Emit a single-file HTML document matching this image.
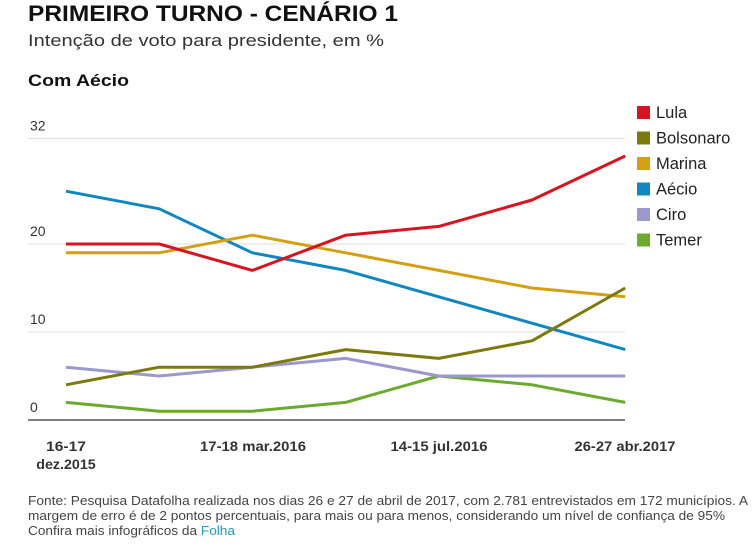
<!DOCTYPE html>
<html><head><meta charset="utf-8"><style>
body{margin:0;background:#fff;width:754px;height:547px;overflow:hidden;font-family:"Liberation Sans",sans-serif;}
svg{position:absolute;left:0;top:0}
</style></head><body>
<svg width="754" height="547">
<text x="28" y="21" font-size="22" font-weight="bold" fill="#111" textLength="370" lengthAdjust="spacingAndGlyphs">PRIMEIRO TURNO - CENÁRIO 1</text>
<text x="28" y="46" font-size="17" fill="#333" textLength="356" lengthAdjust="spacingAndGlyphs">Intenção de voto para presidente, em %</text>
<text x="28" y="86" font-size="17" font-weight="bold" fill="#111" textLength="101" lengthAdjust="spacingAndGlyphs">Com Aécio</text>
<g id="grid"></g><g id="lines"></g><g id="legend"></g>
<text x="28" y="505" font-size="13" fill="#444" textLength="720" lengthAdjust="spacingAndGlyphs">Fonte: Pesquisa Datafolha realizada nos dias 26 e 27 de abril de 2017, com 2.781 entrevistados em 172 municípios. A</text>
<text x="28" y="520" font-size="13" fill="#444" textLength="697" lengthAdjust="spacingAndGlyphs">margem de erro é de 2 pontos percentuais, para mais ou para menos, considerando um nível de confiança de 95%</text>
<text x="28" y="535" font-size="13" fill="#444" textLength="207" lengthAdjust="spacingAndGlyphs">Confira mais infográficos da <tspan fill="#1a9ad6">Folha</tspan></text>
</svg>
<script>
const categories=["dez.2015","mar.2016","mai.2016","jul.2016","out.2016","dez.2016","abr.2017"];
const lula=[20,20,17,21,22,25,30];
const bolsonaro=[4,6,6,8,7,9,15];
const marina=[19,19,21,19,17,15,14];
const aecio=[26,24,19,17,14,11,8];
const ciro=[6,5,6,7,5,5,5];
const temer=[2,1,1,2,5,4,2];
const yTicks=[0,10,20,32];
const seriesNames=["Lula","Bolsonaro","Marina","Aécio","Ciro","Temer"];
const seriesData=[lula,bolsonaro,marina,aecio,ciro,temer];
const colors=["#d7141f","#7d7a0c","#d4a012","#1187c2","#9a98cc","#6aaa2c"];
const NS="http://www.w3.org/2000/svg";
const x=i=>66+i*93.2;
const y=v=>420-v*8.8;
function mk(t,a,p){const e=document.createElementNS(NS,t);for(const k in a)e.setAttribute(k,a[k]);p.appendChild(e);return e;}
const grid=document.getElementById('grid');
yTicks.forEach(v=>{
 const l=mk('line',{x1:28,x2:625,y1:y(v),y2:y(v),stroke:v===0?'#333':'#ddd','stroke-width':v===0?1.3:1},grid);
 
 
 const t=mk('text',{x:30,y:y(v)-8,'font-size':14,fill:'#333'},grid);
 t.textContent=v;
 
 
});
const xl=[[66,"16-17","dez.2015",40],[253,"17-18 mar.2016",null,106],[439,"14-15 jul.2016",null,97],[625,"26-27 abr.2017",null,101]];
xl.forEach((d,i)=>{
 const t=mk('text',{x:d[0],y:451,'font-size':14,'font-weight':'bold',fill:'#333','text-anchor':'middle',textLength:d[3],lengthAdjust:'spacingAndGlyphs'},grid);
 t.textContent=d[1];
 
 
 if(d[2]){const t2=mk('text',{x:d[0],y:469,'font-size':14,'font-weight':'bold',fill:'#333','text-anchor':'middle',textLength:41*1.45,lengthAdjust:'spacingAndGlyphs'},grid);t2.textContent=d[2];
 
 }
});
const lines=document.getElementById('lines');
for(let s=seriesData.length-1;s>=0;s--){
 const pts=seriesData[s].map((v,i)=>x(i)+','+y(v)).join(' ');
 const p=mk('polyline',{points:pts,fill:'none',stroke:colors[s],'stroke-width':3,'stroke-linejoin':'round'},lines);
 
 
}
const lg=document.getElementById('legend');
seriesNames.forEach((n,i)=>{
 const g=mk('g',{},lg);
 
 
 mk('rect',{x:637,y:106+i*25.5,width:13,height:13,fill:colors[i]},g);
 const t=mk('text',{x:656,y:118+i*25.5,'font-size':16.5,fill:'#222'},g);t.textContent=n;
});
</script>
</body></html>
